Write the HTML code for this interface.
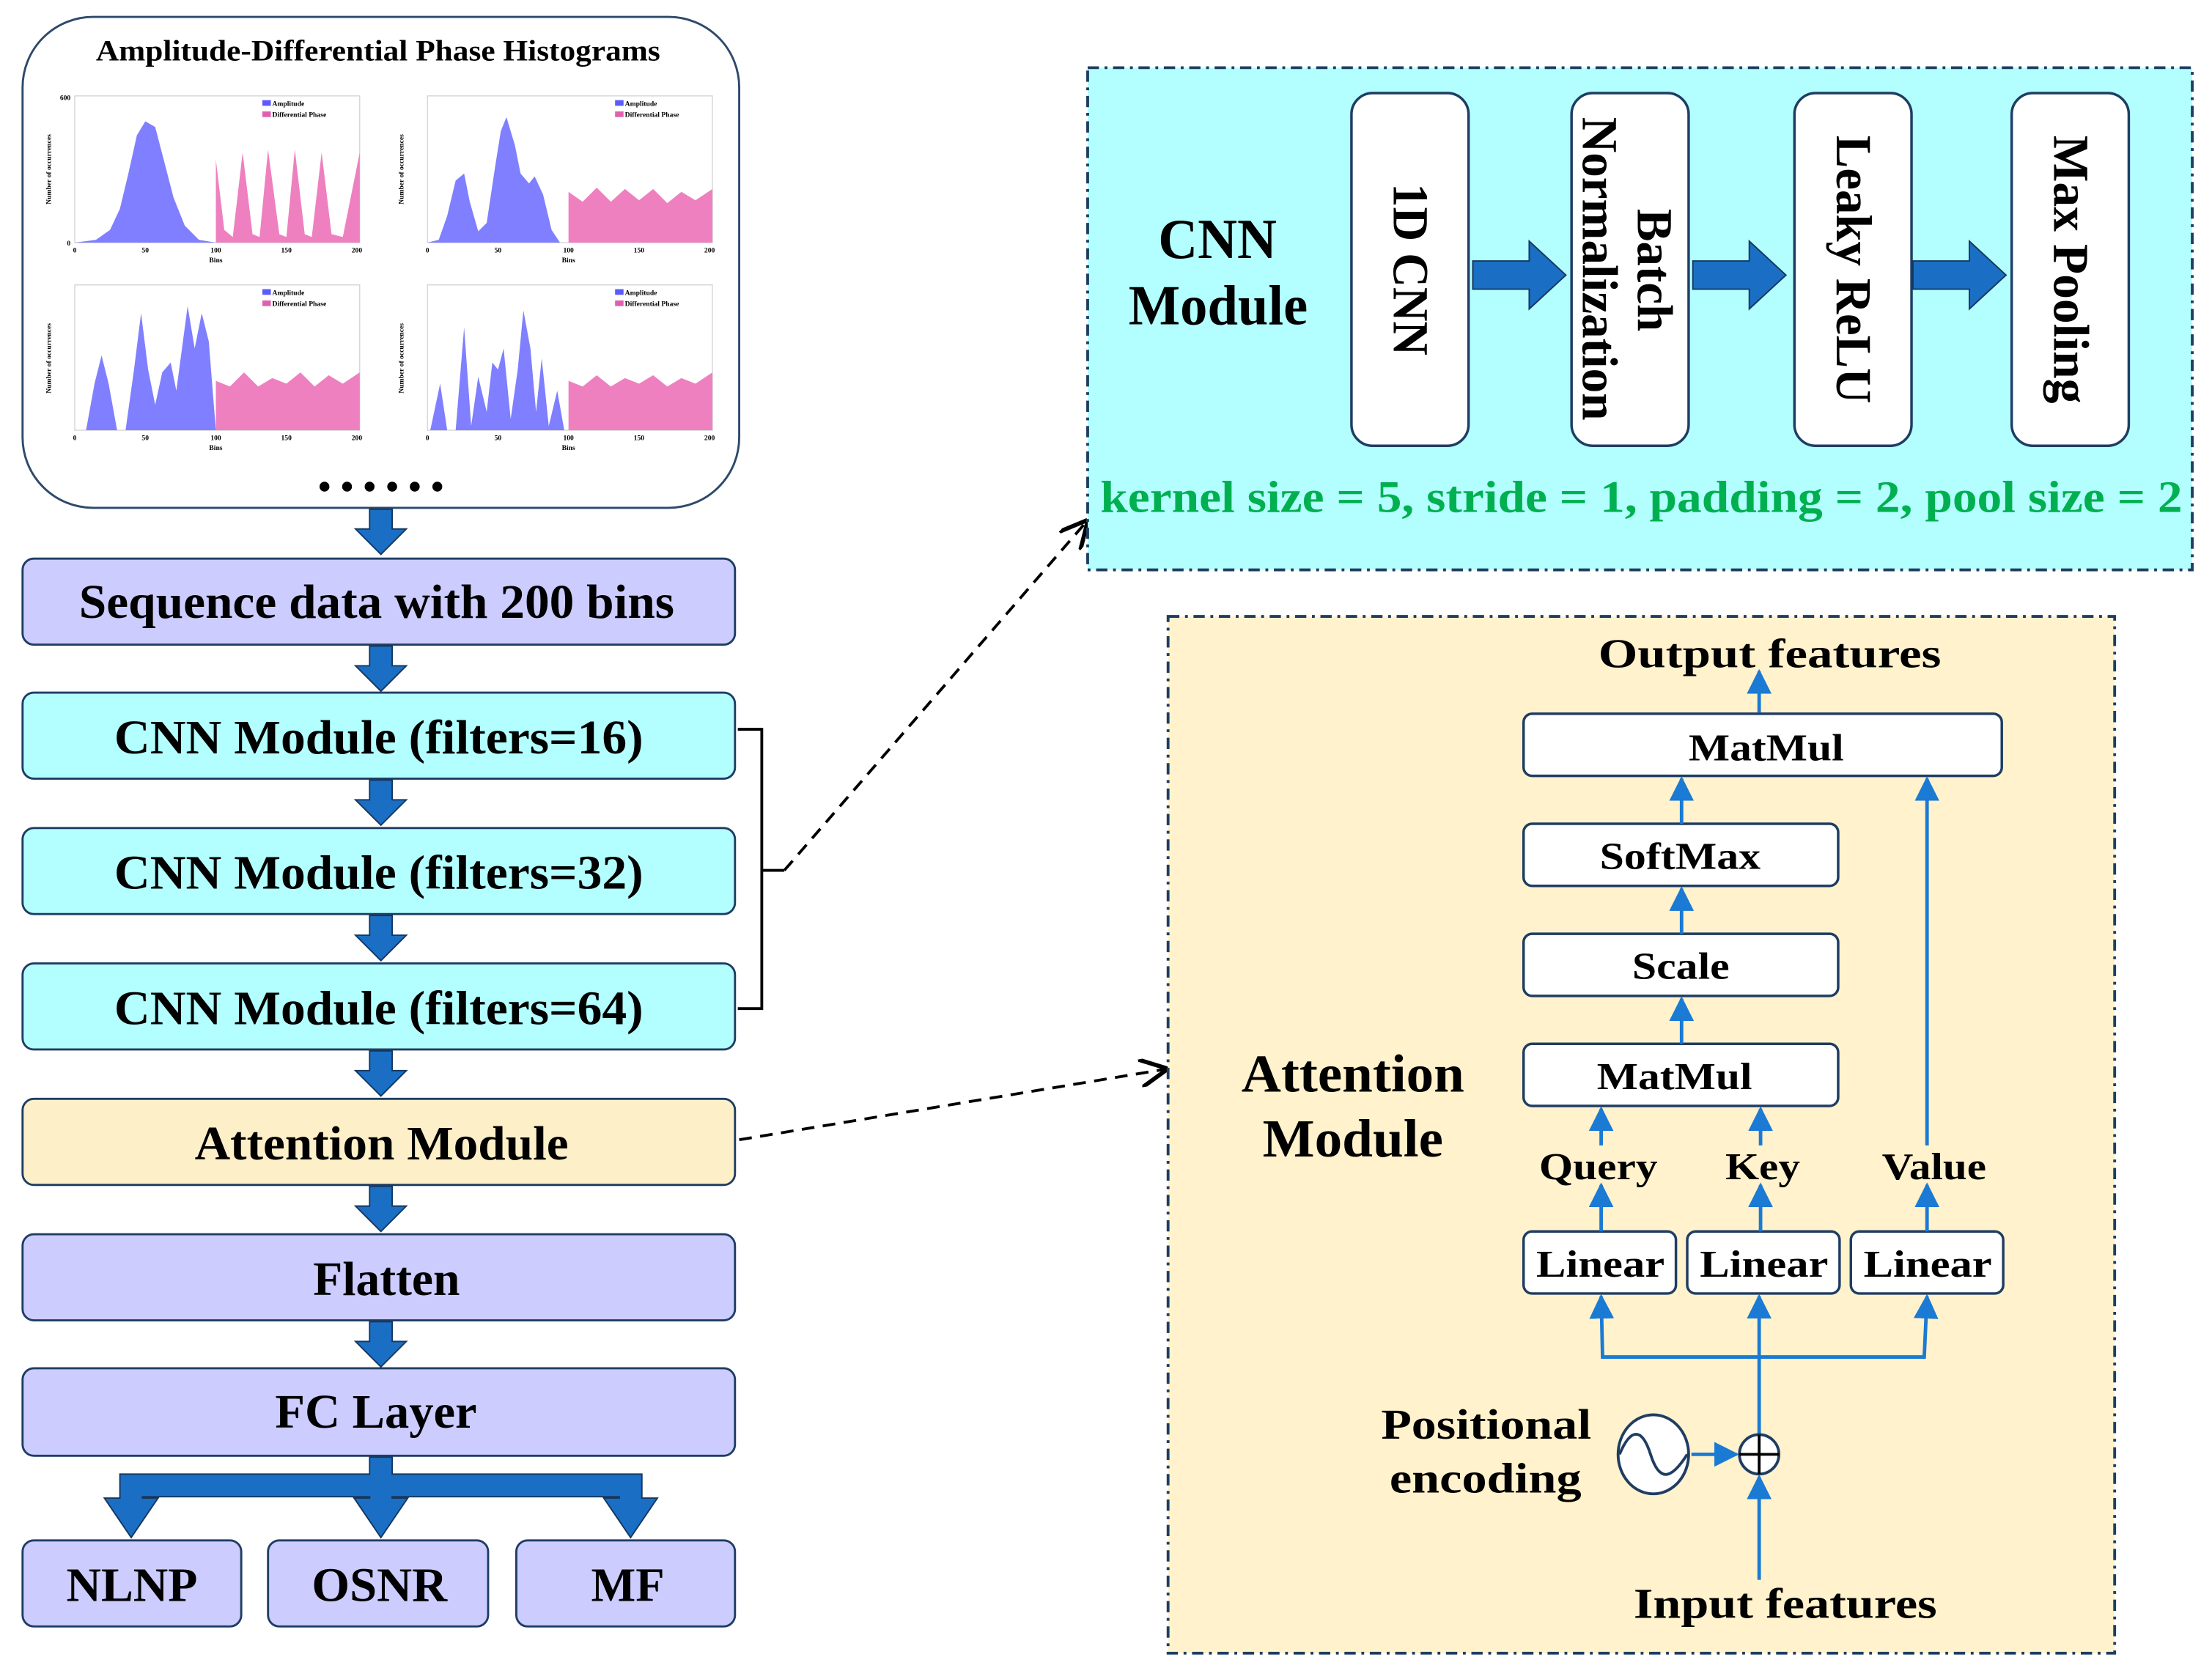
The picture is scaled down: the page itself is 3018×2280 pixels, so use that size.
<!DOCTYPE html>
<html><head><meta charset="utf-8"><style>
html,body{margin:0;padding:0;background:#fff}
svg{display:block}
text{font-family:"Liberation Serif",serif;font-weight:bold;fill:#000}
</style></head><body>
<svg width="3018" height="2280" viewBox="0 0 1568 1184.6" preserveAspectRatio="none" xmlns="http://www.w3.org/2000/svg">
<defs>
<marker id="ba" viewBox="0 0 10 10" refX="9" refY="5" markerWidth="7" markerHeight="7" orient="auto-start-reverse"><path d="M0,0 L10,5 L0,10 z" fill="#1a7ad4"/></marker>
<marker id="ka" viewBox="0 0 10 10" refX="9" refY="5" markerWidth="10" markerHeight="10" orient="auto"><path d="M0,0 L10,5 L0,10" fill="none" stroke="#000" stroke-width="1.5"/></marker>
<g id="down"><path d="M-8,0 L8,0 L8,14 L18,14 L0,32 L-18,14 L-8,14 z" fill="#1a6fc4" stroke="#17375e" stroke-width="1"/></g>
<g id="right"><path d="M0,-10 L40,-10 L40,-24 L66,0 L40,24 L40,10 L0,10 z" fill="#1a6fc4" stroke="#17375e" stroke-width="1"/></g>
</defs>

<!-- Histogram panel -->
<rect x="16" y="12" width="508" height="348" rx="50" fill="#fff" stroke="#2e4a6b" stroke-width="1.5"/>
<text x="268" y="43" font-size="21" text-anchor="middle" textLength="400" lengthAdjust="spacingAndGlyphs">Amplitude-Differential Phase Histograms</text>
<g font-size="5">
<g transform="translate(53,68)">
<rect x="0" y="0" width="202" height="104" fill="#fff" stroke="#ccc" stroke-width="0.6"/>
<path d="M0,104 L15,102 L25,95 L32,80 L38,55 L44,28 L50,18 L57,22 L63,45 L70,72 L78,92 L88,102 L100,104 z" fill="#7f7fff"/>
<path d="M100,104 L100,45 L106,95 L112,100 L119,40 L126,98 L131,100 L137,38 L145,98 L150,100 L156,38 L163,98 L168,100 L175,40 L182,98 L190,100 L202,40 L202,104 z" fill="#ee80c0"/>
<rect x="133" y="3" width="6" height="4" fill="#5a5aff"/><text x="140" y="7">Amplitude</text>
<rect x="133" y="11" width="6" height="4" fill="#e060b0"/><text x="140" y="15">Differential Phase</text>
<text x="-3" y="106" text-anchor="end">0</text><text x="-3" y="3" text-anchor="end">600</text>
<text x="0" y="111" text-anchor="middle">0</text><text x="50" y="111" text-anchor="middle">50</text><text x="100" y="111" text-anchor="middle">100</text><text x="150" y="111" text-anchor="middle">150</text><text x="200" y="111" text-anchor="middle">200</text>
<text x="100" y="118" text-anchor="middle">Bins</text>
<text transform="translate(-17,52) rotate(-90)" text-anchor="middle">Number of occurrences</text>
</g>
<g transform="translate(303,68)">
<rect x="0" y="0" width="202" height="104" fill="#fff" stroke="#ccc" stroke-width="0.6"/>
<path d="M0,104 L8,102 L14,85 L20,60 L26,55 L30,75 L36,96 L42,90 L48,50 L52,25 L56,15 L62,35 L66,55 L72,62 L76,57 L82,70 L88,95 L94,104 z" fill="#7f7fff"/>
<path d="M100,104 L100,68 L110,75 L120,65 L130,75 L140,66 L150,74 L160,66 L170,76 L180,68 L190,74 L202,66 L202,104 z" fill="#ee80c0"/>
<rect x="133" y="3" width="6" height="4" fill="#5a5aff"/><text x="140" y="7">Amplitude</text>
<rect x="133" y="11" width="6" height="4" fill="#e060b0"/><text x="140" y="15">Differential Phase</text>
<text x="0" y="111" text-anchor="middle">0</text><text x="50" y="111" text-anchor="middle">50</text><text x="100" y="111" text-anchor="middle">100</text><text x="150" y="111" text-anchor="middle">150</text><text x="200" y="111" text-anchor="middle">200</text>
<text x="100" y="118" text-anchor="middle">Bins</text>
<text transform="translate(-17,52) rotate(-90)" text-anchor="middle">Number of occurrences</text>
</g>
<g transform="translate(53,202)">
<rect x="0" y="0" width="202" height="103" fill="#fff" stroke="#ccc" stroke-width="0.6"/>
<path d="M8,103 L14,70 L19,50 L24,70 L30,103 L36,103 L42,60 L47,20 L52,60 L57,85 L62,62 L68,55 L72,75 L76,45 L80,15 L85,45 L90,20 L95,40 L100,103 z" fill="#7f7fff"/>
<path d="M100,103 L100,68 L110,72 L120,62 L130,72 L140,66 L150,70 L160,62 L170,72 L180,64 L190,70 L202,62 L202,103 z" fill="#ee80c0"/>
<rect x="133" y="3" width="6" height="4" fill="#5a5aff"/><text x="140" y="7">Amplitude</text>
<rect x="133" y="11" width="6" height="4" fill="#e060b0"/><text x="140" y="15">Differential Phase</text>
<text x="0" y="110" text-anchor="middle">0</text><text x="50" y="110" text-anchor="middle">50</text><text x="100" y="110" text-anchor="middle">100</text><text x="150" y="110" text-anchor="middle">150</text><text x="200" y="110" text-anchor="middle">200</text>
<text x="100" y="117" text-anchor="middle">Bins</text>
<text transform="translate(-17,52) rotate(-90)" text-anchor="middle">Number of occurrences</text>
</g>
<g transform="translate(303,202)">
<rect x="0" y="0" width="202" height="103" fill="#fff" stroke="#ccc" stroke-width="0.6"/>
<path d="M2,103 L9,70 L14,103 L20,103 L26,30 L31,100 L36,65 L42,90 L46,55 L50,60 L54,45 L59,95 L64,60 L68,18 L73,45 L77,90 L81,52 L86,100 L92,75 L97,103 z" fill="#7f7fff"/>
<path d="M100,103 L100,68 L110,72 L120,64 L130,72 L140,66 L150,70 L160,64 L170,72 L180,66 L190,70 L202,62 L202,103 z" fill="#ee80c0"/>
<rect x="133" y="3" width="6" height="4" fill="#5a5aff"/><text x="140" y="7">Amplitude</text>
<rect x="133" y="11" width="6" height="4" fill="#e060b0"/><text x="140" y="15">Differential Phase</text>
<text x="0" y="110" text-anchor="middle">0</text><text x="50" y="110" text-anchor="middle">50</text><text x="100" y="110" text-anchor="middle">100</text><text x="150" y="110" text-anchor="middle">150</text><text x="200" y="110" text-anchor="middle">200</text>
<text x="100" y="117" text-anchor="middle">Bins</text>
<text transform="translate(-17,52) rotate(-90)" text-anchor="middle">Number of occurrences</text>
</g>
</g>
<g fill="#000"><circle cx="230" cy="345" r="3.5"/><circle cx="246" cy="345" r="3.5"/><circle cx="262" cy="345" r="3.5"/><circle cx="278" cy="345" r="3.5"/><circle cx="294" cy="345" r="3.5"/><circle cx="310" cy="345" r="3.5"/></g>

<g stroke="#1f3d63" stroke-width="1.5">
<rect x="16" y="396" width="505" height="61" rx="8" fill="#ccccff"/>
<rect x="16" y="491" width="505" height="61" rx="8" fill="#b3ffff"/>
<rect x="16" y="587" width="505" height="61" rx="8" fill="#b3ffff"/>
<rect x="16" y="683" width="505" height="61" rx="8" fill="#b3ffff"/>
<rect x="16" y="779" width="505" height="61" rx="8" fill="#fdf0c8"/>
<rect x="16" y="875" width="505" height="61" rx="8" fill="#ccccff"/>
<rect x="16" y="970" width="505" height="62" rx="8" fill="#ccccff"/>
<rect x="16" y="1092" width="155" height="61" rx="8" fill="#ccccff"/>
<rect x="190" y="1092" width="156" height="61" rx="8" fill="#ccccff"/>
<rect x="366" y="1092" width="155" height="61" rx="8" fill="#ccccff"/>
</g>
<g font-size="34" lengthAdjust="spacingAndGlyphs">
<text x="56" y="438" textLength="422" lengthAdjust="spacingAndGlyphs">Sequence data with 200 bins</text>
<text x="81" y="534" textLength="375" lengthAdjust="spacingAndGlyphs">CNN Module (filters=16)</text>
<text x="81" y="630" textLength="375" lengthAdjust="spacingAndGlyphs">CNN Module (filters=32)</text>
<text x="81" y="726" textLength="375" lengthAdjust="spacingAndGlyphs">CNN Module (filters=64)</text>
<text x="138" y="822" textLength="265" lengthAdjust="spacingAndGlyphs">Attention Module</text>
<text x="222" y="918" textLength="104" lengthAdjust="spacingAndGlyphs">Flatten</text>
<text x="195" y="1012" textLength="143" lengthAdjust="spacingAndGlyphs">FC Layer</text>
<text x="47" y="1135" textLength="93" lengthAdjust="spacingAndGlyphs">NLNP</text>
<text x="221" y="1135" textLength="96" lengthAdjust="spacingAndGlyphs">OSNR</text>
<text x="419" y="1135" textLength="52" lengthAdjust="spacingAndGlyphs">MF</text>
</g>
<use href="#down" x="270" y="361"/>
<use href="#down" x="270" y="458"/>
<use href="#down" x="270" y="553"/>
<use href="#down" x="270" y="649"/>
<use href="#down" x="270" y="745"/>
<use href="#down" x="270" y="841"/>
<use href="#down" x="270" y="937"/>
<!-- FC split -->
<path d="M262,1033 L278,1033 L278,1045 L455,1045 L455,1062 L466,1062 L447,1090 L428,1062 L439,1062 L439,1061 L278,1061 L278,1062 L289,1062 L270,1090 L251,1062 L262,1062 L262,1061 L101,1061 L101,1062 L112,1062 L93,1090 L74,1062 L85,1062 L85,1045 L262,1045 z" fill="#1a6fc4" stroke="#17375e" stroke-width="1" stroke-linejoin="miter"/>
<rect x="86" y="1046" width="368" height="14.5" fill="#1a6fc4"/>

<path d="M523,517 L540,517 L540,715 L523,715 M540,617 L556,617" fill="none" stroke="#000" stroke-width="2"/>
<line x1="556" y1="617" x2="770" y2="370" stroke="#000" stroke-width="2" stroke-dasharray="9,6" marker-end="url(#ka)"/>
<line x1="524" y1="808" x2="826" y2="758" stroke="#000" stroke-width="2" stroke-dasharray="9,6" marker-end="url(#ka)"/>

<rect x="771" y="48" width="783" height="356" fill="#b3ffff" stroke="#1f3d63" stroke-width="2" stroke-dasharray="8,4,2,4"/>
<text x="821" y="183" font-size="40" textLength="84" lengthAdjust="spacingAndGlyphs">CNN</text>
<text x="800" y="230" font-size="40" textLength="127" lengthAdjust="spacingAndGlyphs">Module</text>
<g stroke="#1f3d63" stroke-width="1.8" fill="#fff">
<rect x="958" y="66" width="83" height="250" rx="15"/>
<rect x="1114" y="66" width="83" height="250" rx="15"/>
<rect x="1272" y="66" width="83" height="250" rx="15"/>
<rect x="1426" y="66" width="83" height="250" rx="15"/>
</g>
<g font-size="36">
<text transform="translate(988,130) rotate(90)" textLength="122" lengthAdjust="spacingAndGlyphs">1D CNN</text>
<text transform="translate(1161,148) rotate(90)" textLength="87" lengthAdjust="spacingAndGlyphs">Batch</text>
<text transform="translate(1122,83) rotate(90)" textLength="215" lengthAdjust="spacingAndGlyphs">Normalization</text>
<text transform="translate(1302,96) rotate(90)" textLength="190" lengthAdjust="spacingAndGlyphs">Leaky ReLU</text>
<text transform="translate(1456,96) rotate(90)" textLength="190" lengthAdjust="spacingAndGlyphs">Max Pooling</text>
</g>
<use href="#right" x="1044" y="195"/>
<use href="#right" x="1200" y="195"/>
<use href="#right" x="1356" y="195"/>
<text x="780" y="363" font-size="32" style="fill:#00b050" textLength="767" lengthAdjust="spacingAndGlyphs">kernel size = 5, stride = 1, padding = 2, pool size = 2</text>

<rect x="828" y="437" width="671" height="735" fill="#fff2cc" stroke="#1f3d63" stroke-width="2" stroke-dasharray="8,4,2,4"/>
<text x="880" y="774" font-size="38" textLength="158" lengthAdjust="spacingAndGlyphs">Attention</text>
<text x="895" y="820" font-size="38" textLength="128" lengthAdjust="spacingAndGlyphs">Module</text>
<text x="1133" y="473" font-size="29" textLength="243" lengthAdjust="spacingAndGlyphs">Output features</text>
<g stroke="#1f3d63" stroke-width="1.8" fill="#fff">
<rect x="1080" y="506" width="339" height="44" rx="6"/>
<rect x="1080" y="584" width="223" height="44" rx="6"/>
<rect x="1080" y="662" width="223" height="44" rx="6"/>
<rect x="1080" y="740" width="223" height="44" rx="6"/>
<rect x="1080" y="873" width="108" height="44" rx="6"/>
<rect x="1196" y="873" width="108" height="44" rx="6"/>
<rect x="1312" y="873" width="108" height="44" rx="6"/>
</g>
<g font-size="27">
<text x="1197" y="539" textLength="110" lengthAdjust="spacingAndGlyphs">MatMul</text>
<text x="1134" y="616" textLength="114" lengthAdjust="spacingAndGlyphs">SoftMax</text>
<text x="1157" y="694" textLength="69" lengthAdjust="spacingAndGlyphs">Scale</text>
<text x="1132" y="772" textLength="110" lengthAdjust="spacingAndGlyphs">MatMul</text>
<text x="1089" y="905" textLength="91" lengthAdjust="spacingAndGlyphs">Linear</text>
<text x="1205" y="905" textLength="91" lengthAdjust="spacingAndGlyphs">Linear</text>
<text x="1321" y="905" textLength="91" lengthAdjust="spacingAndGlyphs">Linear</text>
<text x="1091" y="836" textLength="84" lengthAdjust="spacingAndGlyphs">Query</text>
<text x="1223" y="836" textLength="53" lengthAdjust="spacingAndGlyphs">Key</text>
<text x="1334" y="836" textLength="74" lengthAdjust="spacingAndGlyphs">Value</text>
</g>
<g stroke="#1a7ad4" stroke-width="2.5" fill="none">
<line x1="1247" y1="505" x2="1247" y2="476" marker-end="url(#ba)"/>
<line x1="1192" y1="584" x2="1192" y2="552" marker-end="url(#ba)"/>
<line x1="1192" y1="662" x2="1192" y2="630" marker-end="url(#ba)"/>
<line x1="1192" y1="740" x2="1192" y2="708" marker-end="url(#ba)"/>
<line x1="1366" y1="812" x2="1366" y2="552" marker-end="url(#ba)"/>
<line x1="1366" y1="873" x2="1366" y2="840" marker-end="url(#ba)"/>
<line x1="1135" y1="812" x2="1135" y2="786" marker-end="url(#ba)"/>
<line x1="1248" y1="812" x2="1248" y2="786" marker-end="url(#ba)"/>
<line x1="1135" y1="873" x2="1135" y2="840" marker-end="url(#ba)"/>
<line x1="1248" y1="873" x2="1248" y2="840" marker-end="url(#ba)"/>
<path d="M1135,919 L1136,962 L1364,962 L1366,919" marker-start="url(#ba)" marker-end="url(#ba)"/>
<line x1="1247" y1="1017" x2="1247" y2="919" marker-end="url(#ba)"/>
<line x1="1247" y1="1120" x2="1247" y2="1047" marker-end="url(#ba)"/>
<line x1="1199" y1="1031" x2="1231" y2="1031" marker-end="url(#ba)"/>
</g>
<circle cx="1247" cy="1031" r="14" fill="#fff" stroke="#1f3d63" stroke-width="2"/>
<path d="M1233,1031 H1261 M1247,1017 V1045" stroke="#000" stroke-width="2"/>
<ellipse cx="1172" cy="1031" rx="25" ry="28" fill="#fff" stroke="#1f3d63" stroke-width="2"/>
<path d="M1148,1031 C1156,1012 1164,1012 1170,1031 C1176,1050 1184,1050 1196,1031" fill="none" stroke="#1f3d63" stroke-width="2"/>
<text x="979" y="1020" font-size="30" textLength="149" lengthAdjust="spacingAndGlyphs">Positional</text>
<text x="985" y="1058" font-size="30" textLength="136" lengthAdjust="spacingAndGlyphs">encoding</text>
<text x="1158" y="1147" font-size="30" textLength="215" lengthAdjust="spacingAndGlyphs">Input features</text>
</svg>
</body></html>
